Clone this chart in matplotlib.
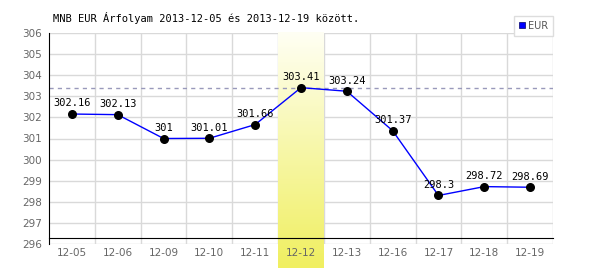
import matplotlib
matplotlib.use("Agg")
import matplotlib.pyplot as plt
import numpy as np
from matplotlib.lines import Line2D

# --- données ---
dates = ['12-05', '12-06', '12-09', '12-10', '12-11', '12-12',
         '12-13', '12-16', '12-17', '12-18', '12-19']
rates = [302.16, 302.13, 301, 301.01, 301.66, 303.41,
         303.24, 301.37, 298.3, 298.72, 298.69]
labels = ['302.16', '302.13', '301', '301.01', '301.66', '303.41',
          '303.24', '301.37', '298.3', '298.72', '298.69']
highlight = '12-12'
title = 'MNB EUR Árfolyam 2013-12-05 és 2013-12-19 között.'

fig = plt.figure(figsize=(6, 2.7), dpi=100)
ax = fig.add_axes([49/600, 1-244/270, 504/600, 211/270])

x = np.arange(len(dates))
ax.set_xlim(-0.5, len(dates) - 0.5)
ax.set_ylim(296, 306)

# grille
for yv in range(296, 307):
    ax.axhline(yv, color='#d9d9d9', lw=1, zorder=0)
for xv in x[1:]:
    ax.axvline(xv - 0.5, color='#d9d9d9', lw=1, zorder=0)
ax.axvline(len(dates) - 0.5, color='#d9d9d9', lw=1, zorder=0)

# bande jaune (dégradé)
hi = dates.index(highlight)
grad = np.linspace(0, 1, 256).reshape(-1, 1)
cmap = matplotlib.colors.LinearSegmentedColormap.from_list(
    'yl', ['#fffff4', '#f7f7a8', '#f0ef60'])
ax.imshow(grad, extent=(hi - 0.5, hi + 0.5, 294.86, 306), aspect='auto',
          cmap=cmap, origin='upper', zorder=0.5, clip_on=False)
ax.set_xlim(-0.5, len(dates) - 0.5)
ax.set_ylim(296, 306)

# ligne du max
ax.axhline(max(rates), color='#9999bb', lw=1, ls=(0, (3, 3)), zorder=1)

ax.plot(x, rates, color='#0000ff', lw=1, zorder=2)
ax.scatter(x, rates, s=30, color='black', zorder=3)
for xi, yi, lb in zip(x, rates, labels):
    ax.annotate(lb, (xi, yi), xytext=(0, 4), textcoords='offset points',
                ha='center', va='bottom', fontsize=7.5,
                family='DejaVu Sans Mono', color='black', zorder=4)

for s in ['top', 'right']:
    ax.spines[s].set_visible(False)
ax.spines['left'].set_color('black')
ax.spines['bottom'].set_position(('data', 296.28))
ax.spines['bottom'].set_color('black')
ax.spines['bottom'].set_zorder(5)

ax.set_xticks(x)
ax.set_xticklabels(dates)
ax.set_yticks(range(296, 307))
ax.tick_params(axis='both', length=0, colors='#666666', labelsize=7.5)
ax.tick_params(axis='x', pad=7)
ax.tick_params(axis='y', pad=5)

fig.text(53/600, 1-18/270, title, fontsize=7.5, family='DejaVu Sans Mono',
         va='center', ha='left')

h = Line2D([], [], marker='s', color='#0000ff', ls='none', markersize=5,
           markeredgecolor='#000066', markeredgewidth=0.5)
leg = ax.legend([h], ['EUR'], loc='upper right',
                bbox_to_anchor=(553/600, 1-16/270), bbox_transform=fig.transFigure,
                borderaxespad=0, fancybox=False, fontsize=7, handlelength=0.6,
                handletextpad=0.3, borderpad=0.5, framealpha=1)
leg.get_frame().set_edgecolor('#dddddd')
leg.get_frame().set_linewidth(1)
for t in leg.get_texts():
    t.set_color('#555555')

fig.savefig('out.png', dpi=100)
